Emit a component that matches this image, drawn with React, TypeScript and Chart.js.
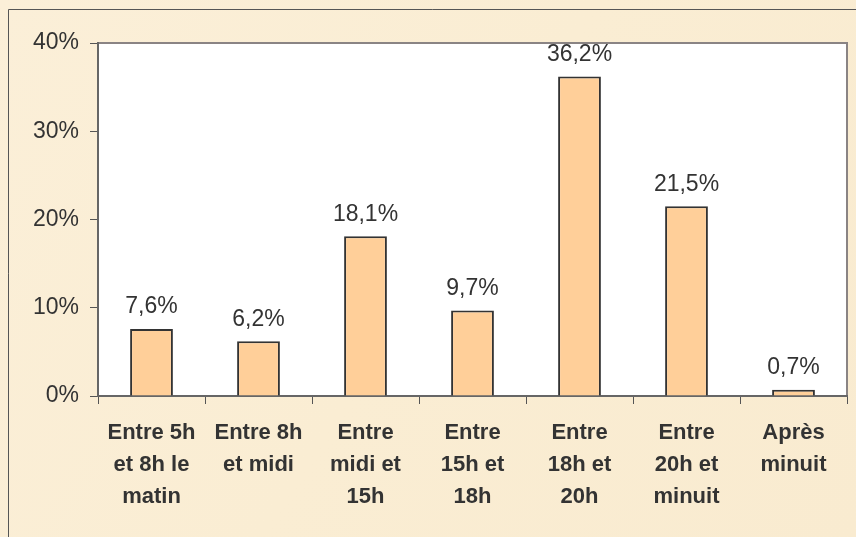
import React, { useEffect, useRef } from "react";
import { Chart, registerables } from "chart.js";

Chart.register(...registerables);

const categories: string[][] = [
  ["Entre 5h", "et 8h le", "matin"],
  ["Entre 8h", "et midi"],
  ["Entre", "midi et", "15h"],
  ["Entre", "15h et", "18h"],
  ["Entre", "18h et", "20h"],
  ["Entre", "20h et", "minuit"],
  ["Après", "minuit"],
];
const values: number[] = [7.6, 6.2, 18.1, 9.7, 36.2, 21.5, 0.7];
const yTicks: number[] = [0, 10, 20, 30, 40];

const fmt = (v: number) => v.toFixed(1).replace(".", ",") + "%";

const framePlugin = {
  id: "frame",
  beforeDraw(chart: any) {
    const { ctx, width, height, chartArea } = chart;
    ctx.save();
    const g = ctx.createLinearGradient(0, 0, width, height);
    g.addColorStop(0, "#FBEFD8");
    g.addColorStop(0.5, "#FAEDD3");
    g.addColorStop(1, "#F9EBD0");
    ctx.fillStyle = g;
    ctx.fillRect(0, 0, width, height);
    ctx.strokeStyle = "#555";
    ctx.lineWidth = 1;
    ctx.beginPath();
    ctx.moveTo(8.5, height);
    ctx.lineTo(8.5, 9.5);
    ctx.lineTo(width, 9.5);
    ctx.stroke();
    ctx.fillStyle = "#ffffff";
    ctx.fillRect(chartArea.left, chartArea.top, chartArea.right - chartArea.left, chartArea.bottom - chartArea.top);
    ctx.strokeStyle = "#8a8484";
    ctx.lineWidth = 2;
    ctx.beginPath();
    ctx.moveTo(chartArea.left, chartArea.top);
    ctx.lineTo(chartArea.right, chartArea.top);
    ctx.lineTo(chartArea.right, chartArea.bottom);
    ctx.stroke();
    ctx.restore();
  },
  afterDatasetsDraw(chart: any) {
    const { ctx } = chart;
    const meta = chart.getDatasetMeta(0);
    ctx.save();
    ctx.fillStyle = "#333333";
    ctx.font = "23px 'Liberation Sans', Arial, sans-serif";
    ctx.textAlign = "center";
    ctx.textBaseline = "middle";
    meta.data.forEach((bar: any, i: number) => {
      ctx.fillText(fmt(values[i]), bar.x, bar.y - 22);
    });
    ctx.restore();
  },
};

export default function App() {
  const ref = useRef<HTMLCanvasElement | null>(null);
  useEffect(() => {
    if (!ref.current) return;
    const chart = new Chart(ref.current, {
      type: "bar",
      data: {
        labels: categories,
        datasets: [
          {
            data: values,
            backgroundColor: "#FFCF99",
            borderColor: "#333333",
            borderWidth: 2,
            borderSkipped: "bottom",
            barPercentage: 0.4,
            categoryPercentage: 1,
          },
        ],
      },
      options: {
        animation: false,
        responsive: false,
        maintainAspectRatio: false,
        layout: { padding: { left: 0, top: 43, right: 9, bottom: 0 } },
        plugins: { legend: { display: false }, tooltip: { enabled: false } },
        scales: {
          x: {
            grid: {
              display: true,
              drawOnChartArea: false,
              offset: true,
              tickLength: 8,
              color: "#555",
              lineWidth: 1,
            },
            border: { display: true, color: "#666", width: 2 },
            ticks: {
              color: "#333333",
              font: { family: "'Liberation Sans', Arial, sans-serif", size: 22, weight: "bold", lineHeight: 32 / 22 },
              padding: 13,
              maxRotation: 0,
              autoSkip: false,
            },
            afterFit(scale: any) {
              scale.height = 141;
            },
          },
          y: {
            min: 0,
            max: 40,
            afterBuildTicks(scale: any) {
              scale.ticks = yTicks.map((v) => ({ value: v }));
            },
            grid: {
              display: true,
              drawOnChartArea: false,
              tickLength: 8,
              color: "#555",
              lineWidth: 1,
            },
            border: { display: true, color: "#666", width: 2 },
            ticks: {
              color: "#333333",
              font: { family: "'Liberation Sans', Arial, sans-serif", size: 23 },
              padding: 11,
              callback: (v: any) => v + "%",
            },
            afterFit(scale: any) {
              scale.width = 98;
            },
          },
        },
      },
      plugins: [framePlugin],
    });
    return () => chart.destroy();
  }, []);
  return (
    <div style={{ position: "absolute", left: 0, top: 0, width: 856, height: 537 }}>
      <canvas ref={ref} width={856} height={537} style={{ width: 856, height: 537, display: "block" }} />
    </div>
  );
}
